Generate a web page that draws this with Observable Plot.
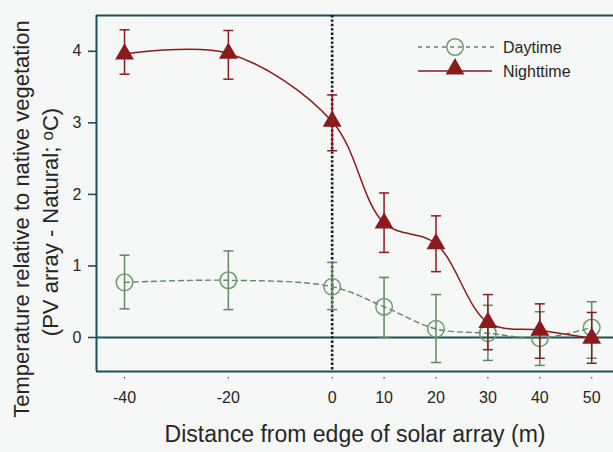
<!DOCTYPE html>
<html>
<head>
<meta charset="utf-8">
<script src="https://cdn.jsdelivr.net/npm/d3@7"></script>
<script src="https://cdn.jsdelivr.net/npm/@observablehq/plot@0.6"></script>
<style>
  html, body { margin: 0; padding: 0; background: #f6f8f8; }
  #chart svg { display: block; }
</style>
</head>
<body>
<div id="chart"></div>
<script>
// ---- data ----
const distance   = [-40, -20, 0, 10, 20, 30, 40, 50];
const dayMean    = [0.77, 0.80, 0.71, 0.43, 0.12, 0.06, -0.01, 0.14];
const dayLow     = [0.40, 0.39, 0.39, 0.00, -0.35, -0.32, -0.39, -0.29];
const dayHigh    = [1.15, 1.21, 1.05, 0.84, 0.60, 0.45, 0.36, 0.50];
const nightMean  = [3.96, 3.97, 3.02, 1.60, 1.31, 0.21, 0.10, -0.01];
const nightLow   = [3.68, 3.61, 2.61, 1.19, 0.92, -0.17, -0.29, -0.36];
const nightHigh  = [4.30, 4.29, 3.39, 2.02, 1.70, 0.60, 0.47, 0.35];
const xTicks     = [-40, -20, 0, 10, 20, 30, 40, 50];
const yTicks     = [0, 1, 2, 3, 4];
const seriesNames = ["Daytime", "Nighttime"];
const xTitle = "Distance from edge of solar array (m)";
const yTitle1 = "Temperature relative to native vegetation";
const yTitle2a = "(PV array - Natural; ";
const yTitle2b = "o";
const yTitle2c = "C)";

// ---- styles ----
const RED = "#8b1a1d";
const GREEN = "#5e8a5e";
const GREEN_LIGHT = "#6f9a6f";
const TEAL = "#1d4f56";
const TEXT = "#262626";
const FONT = "'Liberation Sans', Arial, sans-serif";

const xDomain = [-45.4, 54.2];
const yDomain = [-0.475, 4.5];

const day = distance.map((d, i) => ({x: d, y: dayMean[i], lo: dayLow[i], hi: dayHigh[i]}));
const night = distance.map((d, i) => ({x: d, y: nightMean[i], lo: nightLow[i], hi: nightHigh[i]}));

const cap = {draw(ctx) { ctx.moveTo(-5, 0); ctx.lineTo(5, 0); }};

const chart = Plot.plot({
  width: 613,
  height: 452,
  marginLeft: 96,
  marginRight: 0,
  marginTop: 15,
  marginBottom: 81,
  style: {fontFamily: FONT, background: "#f6f8f8", color: TEXT},
  x: {domain: xDomain, axis: null},
  y: {domain: yDomain, axis: null},
  marks: [
    // frame: top, bottom, left
    Plot.ruleY([yDomain[1]], {stroke: TEAL, strokeWidth: 2}),
    Plot.ruleY([yDomain[0]], {stroke: TEAL, strokeWidth: 2}),
    Plot.ruleX([xDomain[0]], {stroke: TEAL, strokeWidth: 2}),
    // zero line
    Plot.ruleY([0], {stroke: TEAL, strokeWidth: 1.8}),
    // dotted edge line
    Plot.ruleX([0], {stroke: "#1a1a1a", strokeWidth: 2.6, strokeDasharray: "2.4,2"}),
    // axes
    Plot.axisY(yTicks, {tickSize: 8, tickPadding: 7, fontSize: 16, stroke: TEAL, strokeWidth: 1.6, fill: TEXT, label: null, tickFormat: d => String(d)}),
    Plot.axisX(xTicks, {tickSize: 1.5, dy: 6, stroke: TEAL, strokeWidth: 1.2, tickFormat: () => "", label: null}),
    Plot.axisX(xTicks, {tickSize: 0, tickPadding: 20, fontSize: 16, fill: TEXT, label: null, tickFormat: d => String(d)}),
    Plot.text([xTitle], {frameAnchor: "bottom", dy: 70, fontSize: 23, fill: TEXT}),
    // daytime
    Plot.line(day, {x: "x", y: "y", curve: "catmull-rom", stroke: GREEN, strokeWidth: 1.4, strokeDasharray: "5,4"}),
    Plot.ruleX(day, {x: "x", y1: "lo", y2: "hi", stroke: GREEN, strokeWidth: 1.5}),
    Plot.dot(day, {x: "x", y: "lo", symbol: cap, fill: "none", stroke: GREEN, strokeWidth: 1.5}),
    Plot.dot(day, {x: "x", y: "hi", symbol: cap, fill: "none", stroke: GREEN, strokeWidth: 1.5}),
    Plot.dot(day, {x: "x", y: "y", r: 8.3, fill: "none", stroke: GREEN_LIGHT, strokeWidth: 1.5}),
    // nighttime
    Plot.line(night, {x: "x", y: "y", curve: "catmull-rom", stroke: RED, strokeWidth: 1.5}),
    Plot.ruleX(night, {x: "x", y1: "lo", y2: "hi", stroke: RED, strokeWidth: 1.5}),
    Plot.dot(night, {x: "x", y: "lo", symbol: cap, fill: "none", stroke: RED, strokeWidth: 1.5}),
    Plot.dot(night, {x: "x", y: "hi", symbol: cap, fill: "none", stroke: RED, strokeWidth: 1.5}),
    Plot.dot(night, {x: "x", y: "y", r: 7, symbol: "triangle", fill: RED, stroke: "none"})
  ]
});

document.getElementById("chart").appendChild(chart);

// ---- y title (two lines, rotated) and legend ----
const svg = d3.select(chart);
const yt = svg.append("g").attr("font-family", FONT).attr("fill", TEXT).attr("font-size", 22).attr("text-anchor", "middle");
yt.append("text").attr("transform", "translate(28.5,219) rotate(-90)").text(yTitle1);
const t2 = yt.append("text").attr("transform", "translate(58,222) rotate(-90)");
t2.append("tspan").text(yTitle2a);
t2.append("tspan").attr("font-size", 17).attr("dy", -5).text(yTitle2b);
t2.append("tspan").attr("dy", 5).text(yTitle2c);

const lg = svg.append("g").attr("font-family", FONT).attr("font-size", 16).attr("fill", TEXT).attr("text-anchor", "start");
// Daytime entry
lg.append("line").attr("x1", 418).attr("x2", 497).attr("y1", 47).attr("y2", 47)
  .attr("stroke", GREEN).attr("stroke-width", 1.4).attr("stroke-dasharray", "4,4");
lg.append("circle").attr("cx", 455).attr("cy", 47).attr("r", 8.3).attr("fill", "none")
  .attr("stroke", GREEN_LIGHT).attr("stroke-width", 1.5);
lg.append("text").attr("x", 503).attr("y", 47).attr("dy", "0.35em").text(seriesNames[0]);
// Nighttime entry
lg.append("line").attr("x1", 418).attr("x2", 492).attr("y1", 71).attr("y2", 71)
  .attr("stroke", RED).attr("stroke-width", 1.5);
lg.append("path").attr("transform", "translate(455,69)").attr("d", d3.symbol(d3.symbolTriangle, Math.PI * 49)())
  .attr("fill", RED);
lg.append("text").attr("x", 503).attr("y", 71).attr("dy", "0.35em").text(seriesNames[1]);
</script>
</body>
</html>
